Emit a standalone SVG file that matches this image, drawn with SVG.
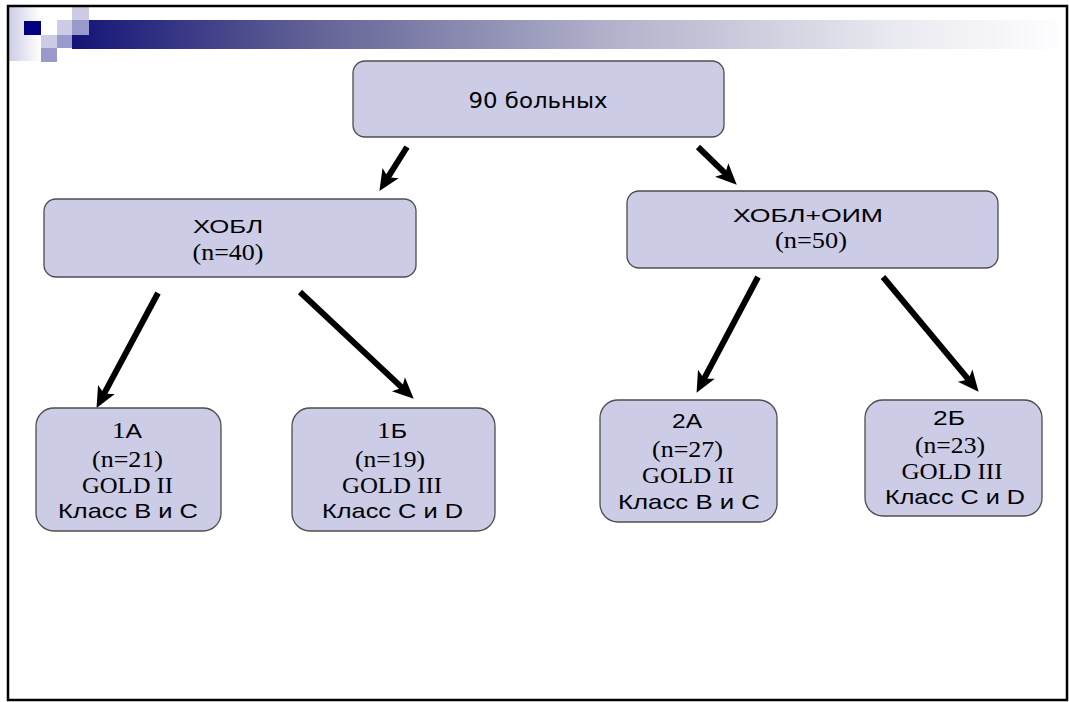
<svg xmlns="http://www.w3.org/2000/svg" width="1069" height="702" viewBox="0 0 1069 702">
<defs>
<style>
.box{fill:#cccce6;stroke:#4d4d4d;stroke-width:1.3}
.s{font-family:"Liberation Sans",Arial,sans-serif;font-size:21px;text-anchor:middle;fill:#000}
.h{font-size:19px}
.r{font-family:"Liberation Serif","Times New Roman",serif;font-size:23px;text-anchor:middle;fill:#000}
.rr{font-family:"Liberation Serif","Times New Roman",serif;font-size:23px}
.d{font-family:"DejaVu Sans",Verdana,sans-serif;font-size:21px;text-anchor:middle;fill:#000}
.arrow{stroke:#000;stroke-width:6;fill:none;marker-end:url(#ah)}
.lt{fill:#cccce6}
.md{fill:#9999cc}
</style>
<linearGradient id="bar" gradientUnits="userSpaceOnUse" x1="72" y1="0" x2="1057" y2="0">
<stop offset="0" stop-color="#141478"/>
<stop offset="0.23" stop-color="#5e5e94"/>
<stop offset="0.54" stop-color="#b0b0ca"/>
<stop offset="0.84" stop-color="#eaeaf1"/>
<stop offset="1" stop-color="#fdfdfe"/>
</linearGradient>
<linearGradient id="side" x1="0" y1="0" x2="1" y2="0">
<stop offset="0" stop-color="#cccce6"/>
<stop offset="1" stop-color="#ffffff"/>
</linearGradient>
<marker id="ah" markerUnits="userSpaceOnUse" markerWidth="30" markerHeight="30" refX="0" refY="0" orient="auto" overflow="visible">
<path d="M15,0 L-6,-9.5 L-1,0 L-6,9.5 Z" fill="#000"/>
</marker>
</defs>
<rect x="0" y="0" width="1069" height="702" fill="#fff"/>
<g id="decor">
<rect x="72" y="20" width="985" height="29" fill="url(#bar)"/>
<rect x="8" y="6" width="33" height="55" fill="url(#side)"/>
<rect x="24" y="21" width="17" height="14" fill="#000080"/>
<rect class="lt" x="72" y="6" width="17" height="14"/>
<rect class="lt" x="57" y="20" width="15" height="15"/>
<rect class="lt" x="41" y="35" width="16" height="13"/>
<rect class="md" x="72" y="20" width="17" height="15"/>
<rect class="md" x="57" y="35" width="15" height="13"/>
<rect class="md" x="41" y="48" width="16" height="14"/>
</g>
<rect id="frame" x="8" y="6" width="1059" height="694" fill="none" stroke="#000" stroke-width="2.5"/>
<g id="connectors">
<line class="arrow" x1="407" y1="147" x2="387.4" y2="178.2"/>
<line class="arrow" x1="698" y1="147" x2="726" y2="174.2"/>
<line class="arrow" x1="158" y1="293" x2="103.6" y2="394.7"/>
<line class="arrow" x1="300" y1="292" x2="402.8" y2="388.4"/>
<line class="arrow" x1="758" y1="277" x2="703.6" y2="379.6"/>
<line class="arrow" x1="883" y1="277" x2="969" y2="380.2"/>
</g>
<g id="n-total">
<rect class="box" x="353" y="61" width="371" height="76" rx="12"/>
<text class="d" x="538" y="108" textLength="139" lengthAdjust="spacingAndGlyphs">90 больных</text>
</g>
<g id="n-hobl">
<rect class="box" x="44" y="199" width="372" height="78" rx="12"/>
<text class="s h" x="228" y="233" textLength="70" lengthAdjust="spacingAndGlyphs">ХОБЛ</text>
<text class="r" x="228" y="260" textLength="71" lengthAdjust="spacingAndGlyphs">(n=40)</text>
</g>
<g id="n-hobl-oim">
<rect class="box" x="627" y="191" width="371" height="77" rx="12"/>
<text class="s h" x="808" y="222" textLength="150" lengthAdjust="spacingAndGlyphs">ХОБЛ+ОИМ</text>
<text class="r" x="811" y="248" textLength="72" lengthAdjust="spacingAndGlyphs">(n=50)</text>
</g>
<g id="n-1a">
<rect class="box" x="36" y="408" width="185" height="123" rx="18"/>
<text class="s" x="127" y="438" textLength="30" lengthAdjust="spacingAndGlyphs"><tspan class="rr">1</tspan>А</text>
<text class="r" x="127.5" y="467" textLength="71" lengthAdjust="spacingAndGlyphs">(n=21)</text>
<text class="r" x="127.5" y="493" textLength="91" lengthAdjust="spacingAndGlyphs">GOLD II</text>
<text class="s" x="128" y="518" textLength="140" lengthAdjust="spacingAndGlyphs">Класс В и С</text>
</g>
<g id="n-1b">
<rect class="box" x="292" y="408" width="203" height="123" rx="18"/>
<text class="s" x="392" y="438" textLength="30" lengthAdjust="spacingAndGlyphs"><tspan class="rr">1</tspan>Б</text>
<text class="r" x="390" y="467" textLength="70" lengthAdjust="spacingAndGlyphs">(n=19)</text>
<text class="r" x="392" y="493" textLength="100" lengthAdjust="spacingAndGlyphs">GOLD III</text>
<text class="s" x="392.5" y="518" textLength="141" lengthAdjust="spacingAndGlyphs">Класс С и D</text>
</g>
<g id="n-2a">
<rect class="box" x="600" y="400" width="177" height="122" rx="18"/>
<text class="s" x="687" y="428" textLength="30" lengthAdjust="spacingAndGlyphs">2А</text>
<text class="r" x="687.5" y="457" textLength="71" lengthAdjust="spacingAndGlyphs">(n=27)</text>
<text class="r" x="688" y="483" textLength="92" lengthAdjust="spacingAndGlyphs">GOLD II</text>
<text class="s" x="689" y="509" textLength="142" lengthAdjust="spacingAndGlyphs">Класс В и С</text>
</g>
<g id="n-2b">
<rect class="box" x="865" y="400" width="177" height="116" rx="18"/>
<text class="s" x="949" y="425" textLength="32" lengthAdjust="spacingAndGlyphs">2Б</text>
<text class="r" x="950" y="453" textLength="70" lengthAdjust="spacingAndGlyphs">(n=23)</text>
<text class="r" x="952" y="479" textLength="101" lengthAdjust="spacingAndGlyphs">GOLD III</text>
<text class="s" x="955" y="504" textLength="140" lengthAdjust="spacingAndGlyphs">Класс С и D</text>
</g>
</svg>
